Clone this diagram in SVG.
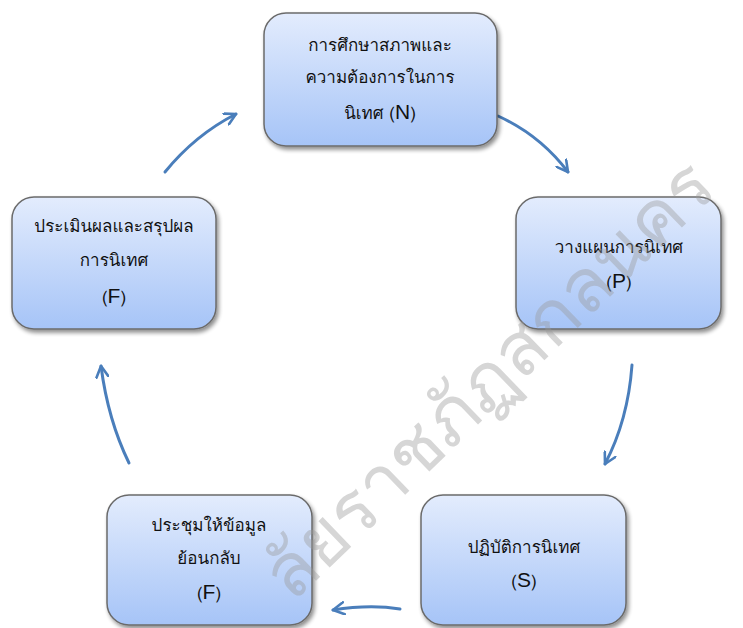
<svg xmlns="http://www.w3.org/2000/svg" width="743" height="628" viewBox="0 0 743 628">
<defs>
<linearGradient id="g" x1="0" y1="0" x2="0" y2="1">
<stop offset="0" stop-color="#e3ecfd"/>
<stop offset="1" stop-color="#a6c4f7"/>
</linearGradient>
<filter id="sh" x="-10%" y="-10%" width="125%" height="130%">
<feGaussianBlur in="SourceAlpha" stdDeviation="2"/>
<feOffset dx="2" dy="3" result="b"/>
<feComponentTransfer><feFuncA type="linear" slope="0.45"/></feComponentTransfer>
<feMerge><feMergeNode/><feMergeNode in="SourceGraphic"/></feMerge>
</filter>
<marker id="ah" viewBox="0 0 14 14" refX="12" refY="7" markerWidth="14" markerHeight="14" markerUnits="userSpaceOnUse" orient="auto">
<path d="M1 1 L12 7 L1 13" fill="none" stroke="#4a7ebb" stroke-width="2.6" stroke-linecap="round" stroke-linejoin="round"/>
</marker>
</defs>
<style>
.box{fill:url(#g);stroke:#6b6b6b;stroke-width:1.5;filter:url(#sh)}
.t{font-family:Tahoma,Loma,Garuda,Norasi,"Noto Serif Thai","Noto Sans Thai","Noto Sans","DejaVu Sans",sans-serif;font-size:17px;fill:#111;text-anchor:middle}
.L{font-family:"Liberation Sans","Noto Sans",sans-serif;font-size:21px}
.c{fill:none;stroke:#4a7ebb;stroke-width:3;stroke-linecap:round;marker-end:url(#ah)}
.wm{font-family:Loma,Garuda,Norasi,"Noto Serif Thai","Noto Sans Thai","Noto Sans",sans-serif;font-size:74px;font-weight:300;fill:#9a9a9a;opacity:0.4}
</style>
<rect width="743" height="628" fill="#fff"/>
<g id="connectors">
<path class="c" d="M165 172 Q195 135 236 114"/>
<path class="c" d="M498 116 Q540 135 568 172"/>
<path class="c" d="M632 365 Q628 420 605 464"/>
<path class="c" d="M400 609 Q370 604 333 610"/>
<path class="c" d="M129 463 Q108 420 101 366"/>
</g>
<g id="node-N">
<rect class="box" x="264" y="13" width="233" height="133" rx="22"/>
<text class="t" x="380" y="51">การศึกษาสภาพและ</text>
<text class="t" x="380" y="83">ความต้องการในการ</text>
<text class="t" x="380" y="119">นิเทศ  (<tspan class="L">N</tspan>)</text>
</g>
<g id="node-P">
<rect class="box" x="516" y="197" width="205" height="132" rx="22"/>
<text class="t" x="619" y="253">วางแผนการนิเทศ</text>
<text class="t" x="619" y="288">(<tspan class="L">P</tspan>)</text>
</g>
<g id="node-S">
<rect class="box" x="421" y="495" width="205" height="130" rx="22"/>
<text class="t" x="524" y="553">ปฏิบัติการนิเทศ</text>
<text class="t" x="524" y="587">(<tspan class="L">S</tspan>)</text>
</g>
<g id="node-F2">
<rect class="box" x="107" y="495" width="205" height="130" rx="22"/>
<text class="t" x="209" y="531">ประชุมให้ข้อมูล</text>
<text class="t" x="209" y="564">ย้อนกลับ</text>
<text class="t" x="209" y="599">(<tspan class="L">F</tspan>)</text>
</g>
<g id="node-F1">
<rect class="box" x="12" y="197" width="204" height="132" rx="22"/>
<text class="t" x="114" y="232">ประเมินผลและสรุปผล</text>
<text class="t" x="114" y="266">การนิเทศ</text>
<text class="t" x="114" y="303">(<tspan class="L">F</tspan>)</text>
</g>
<text class="wm" transform="translate(292 604) rotate(-44)">ลัยราชภัฏสกลนคร</text>
</svg>
